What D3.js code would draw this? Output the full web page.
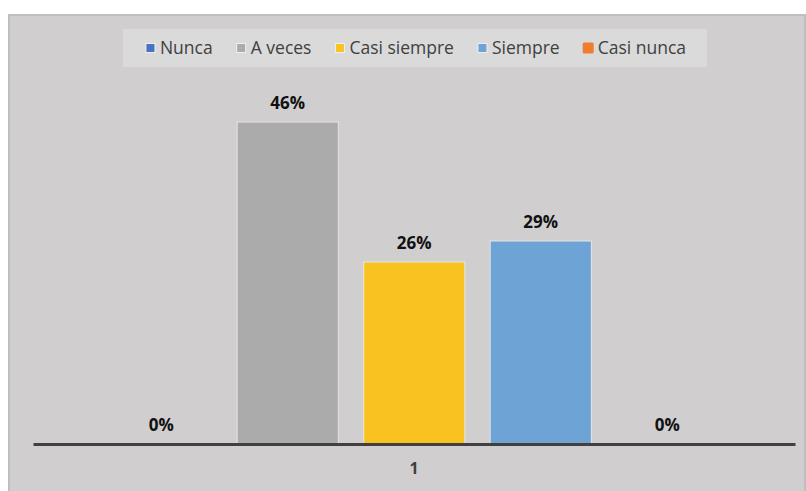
<!DOCTYPE html>
<html>
<head>
<meta charset="utf-8">
<script src="https://cdn.jsdelivr.net/npm/d3@7"></script>
<style>
  body { margin: 0; background: #fff; }
  svg { display: block; font-family: "Open Sans", sans-serif; }
</style>
</head>
<body>
<svg id="chart" width="806" height="491"></svg>
<script>
const categories = ["1"];
const series = ["Nunca", "A veces", "Casi siempre", "Siempre", "Casi nunca"];
const values = [0, 0.46, 0.26, 0.29, 0];
const colors = ["#4472C4", "#ABABAB", "#F8C320", "#6EA3D6", "#ED7D31"];

const WIDTH = 806, HEIGHT = 491;
const svg = d3.select("#chart");

// chart area background with darker top/left edge
svg.append("rect")
  .attr("x", 8).attr("y", 14)
  .attr("width", WIDTH - 8).attr("height", HEIGHT - 14)
  .attr("fill", "#BFBFBF");
svg.append("rect")
  .attr("x", 10).attr("y", 16)
  .attr("width", WIDTH - 12).attr("height", HEIGHT - 16)
  .attr("fill", "#D0CECE");

const x0 = d3.scaleBand().domain(categories).range([33, 795]);
const x1 = d3.scaleBand().domain(series).range([98, 730.5])
  .paddingInner(0.2).paddingOuter(0.1);
const y = d3.scaleLinear().domain([0, 0.5]).range([444, 94]);

const fmt = d3.format(".0%");
const data = series.map((s, i) => ({ s, v: values[i], c: colors[i] }));

const plot = svg.append("g");

plot.selectAll("rect.bar")
  .data(data.filter(d => d.v > 0))
  .join("rect")
  .attr("class", "bar")
  .attr("x", d => x1(d.s))
  .attr("width", x1.bandwidth())
  .attr("y", d => y(d.v))
  .attr("height", d => y(0) - y(d.v))
  .attr("fill", d => d.c)
  .attr("stroke", "#E6E6E6")
  .attr("stroke-width", 1);

plot.selectAll("text.lbl")
  .data(data)
  .join("text")
  .attr("class", "lbl")
  .attr("x", d => x1(d.s) + x1.bandwidth() / 2)
  .attr("y", d => y(d.v) - 13)
  .attr("text-anchor", "middle")
  .attr("font-size", 17)
  .attr("font-weight", 700)
  .attr("fill", "#111")
  .text(d => fmt(d.v));

// category axis
const axis = svg.append("g")
  .attr("transform", `translate(0,${y(0)})`)
  .call(d3.axisBottom(x0).tickSize(0).tickPadding(19));
axis.select(".domain").attr("stroke", "#404040").attr("stroke-width", 3);
axis.selectAll("text")
  .attr("font-family", "Open Sans, sans-serif")
  .attr("font-size", 16)
  .attr("font-weight", 700)
  .attr("fill", "#404040");

// legend
const legend = svg.append("g");
legend.append("rect")
  .attr("x", 123).attr("y", 29)
  .attr("width", 584).attr("height", 38)
  .attr("fill", "#DADADA");

const items = legend.selectAll("g.item")
  .data(data)
  .join("g")
  .attr("class", "item");
items.append("text")
  .attr("font-size", 17.5)
  .attr("fill", "#404040")
  .attr("dy", "0.35em")
  .text(d => d.s);

const widths = [];
items.select("text").each(function () { widths.push(this.getComputedTextLength()); });
const mk = 9, gapMk = 5, gapItem = 24;
const total = d3.sum(widths) + data.length * (mk + gapMk) + (data.length - 1) * gapItem;
let cx = 416 - total / 2;
items.each(function (d, i) {
  const g = d3.select(this).attr("transform", `translate(${cx},48)`);
  const sz = d.s === "Casi nunca" ? 11 : mk;
  g.insert("rect", "text")
    .attr("x", (mk - sz) / 2).attr("y", -sz / 2)
    .attr("width", sz).attr("height", sz)
    .attr("rx", d.s === "Casi nunca" ? 1.5 : 0)
    .attr("fill", d.c)
    .attr("stroke", d.s === "Casi nunca" ? "none" : "#EEE")
    .attr("stroke-width", 1);
  g.select("text").attr("x", mk + gapMk);
  cx += widths[i] + mk + gapMk + gapItem;
});
</script>
</body>
</html>
